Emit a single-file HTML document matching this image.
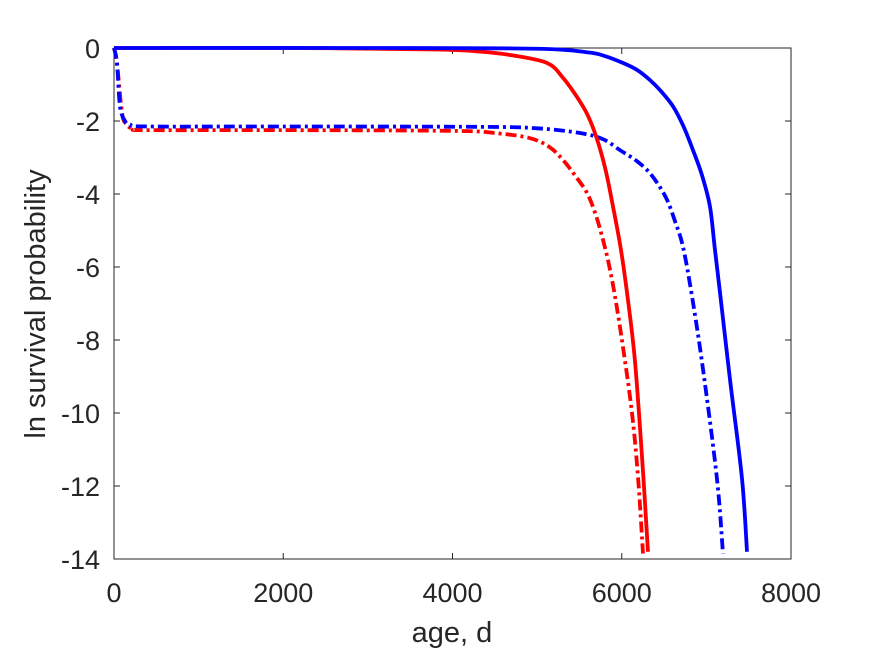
<!DOCTYPE html>
<html><head><meta charset="utf-8"><style>
html,body{margin:0;padding:0;background:#fff;}
svg{display:block;font-family:"Liberation Sans",sans-serif;}
</style></head><body>
<svg id="chart" width="875" height="656" viewBox="0 0 875 656" xmlns="http://www.w3.org/2000/svg">
<rect width="875" height="656" fill="#fff"/>
<g id="axes"></g>
<g id="series"></g>
</svg>
<script>
const xTicks=[0,2000,4000,6000,8000];
const yTicks=[0,-2,-4,-6,-8,-10,-12,-14];
const redSolidX=[0,2000,3800,4325,4700,5117,5300,5471,5600,5708,5810,5897,5985,6062,6157,6251,6310];
const redSolidY=[0,0,-0.04,-0.1,-0.2,-0.41,-0.8,-1.34,-1.85,-2.5,-3.35,-4.35,-5.45,-6.7,-8.6,-11.6,-13.8];
const blueSolidX=[0,3000,5000,5600,5800,6015,6180,6334,6470,6606,6730,6842,6950,7043,7100,7161,7280,7421,7480];
const blueSolidY=[0,0,-0.02,-0.12,-0.22,-0.41,-0.6,-0.88,-1.2,-1.6,-2.15,-2.8,-3.5,-4.35,-5.5,-6.7,-9.1,-11.8,-13.8];
const blueDashX=[0,35,71,130,190,400,2000,4325,5000,5507,5780,5980,6150,6298,6420,6535,6630,6724,6830,6960,7125,7196];
const blueDashY=[0,-0.41,-1.6,-2.0,-2.1,-2.15,-2.15,-2.16,-2.2,-2.33,-2.5,-2.8,-3.05,-3.34,-3.7,-4.16,-4.75,-5.45,-6.8,-8.8,-11.8,-13.85];
const redDashX=[0,35,95,150,230,400,2000,4000,4500,4916,5150,5306,5450,5589,5690,5779,5850,5920,6015,6121,6192,6251];
const redDashY=[0,-0.41,-1.78,-2.1,-2.22,-2.25,-2.25,-2.27,-2.33,-2.47,-2.72,-3.07,-3.5,-3.97,-4.55,-5.26,-5.95,-6.8,-8.2,-10,-11.75,-13.85];

const L=114,R=791,T=48,B=559;
const sx=v=>L+(v-0)/8000*(R-L);
const sy=v=>T+(0-v)/14*(B-T);
const NS="http://www.w3.org/2000/svg";
const axes=document.getElementById('axes');
const ser=document.getElementById('series');
function mk(tag,attrs,parent){const e=document.createElementNS(NS,tag);for(const k in attrs)e.setAttribute(k,attrs[k]);parent.appendChild(e);return e;}

const frame=mk('rect',{x:L,y:T,width:R-L,height:B-T,fill:'none',stroke:'#262626','stroke-width':1},axes);


xTicks.forEach(v=>{
  const t=mk('path',{d:`M${sx(v)},${B}V${B-6}M${sx(v)},${T}V${T+6}`,stroke:'#262626','stroke-width':1},axes);
  
  
  const lb=mk('text',{x:sx(v),y:B+43,'text-anchor':'middle','font-size':27,fill:'#262626'},axes);
  lb.textContent=v;
  
  
});
yTicks.forEach(v=>{
  const t=mk('path',{d:`M${L},${sy(v)}H${L+6}M${R},${sy(v)}H${R-6}`,stroke:'#262626','stroke-width':1},axes);
  
  
  const lb=mk('text',{x:L-14,y:sy(v)+10,'text-anchor':'end','font-size':27,fill:'#262626'},axes);
  lb.textContent=v;
  
  
});
const xl=mk('text',{x:452,y:642,'text-anchor':'middle','font-size':29,fill:'#262626'},axes);
xl.textContent='age, d';


const yl=mk('text',{x:0,y:0,'text-anchor':'middle','font-size':29,fill:'#262626',transform:'translate(45,304) rotate(-90)'},axes);
yl.textContent='ln survival probability';



function line(xs,ys,color,dash,name){
  const pts=xs.map((x,i)=>[sx(x),sy(ys[i])]);
  let d=`M${pts[0][0]},${pts[0][1]}`;
  for(let i=0;i<pts.length-1;i++){
    const p0=pts[Math.max(0,i-1)],p1=pts[i],p2=pts[i+1],p3=pts[Math.min(pts.length-1,i+2)];
    const c1=[p1[0]+(p2[0]-p0[0])/6,p1[1]+(p2[1]-p0[1])/6];
    const c2=[p2[0]-(p3[0]-p1[0])/6,p2[1]-(p3[1]-p1[1])/6];
    d+=`C${c1[0]},${c1[1]} ${c2[0]},${c2[1]} ${p2[0]},${p2[1]}`;
  }
  const p=mk('path',{d:d,fill:'none',stroke:color,'stroke-width':3.8,'stroke-linejoin':'round'},ser);
  if(dash)p.setAttribute('stroke-dasharray','11 4 3 4');
  
  
}
line(redDashX,redDashY,'#ff0000',true,'red-dashdot-line');
line(blueDashX,blueDashY,'#0000ff',true,'blue-dashdot-line');
line(redSolidX,redSolidY,'#ff0000',false,'red-solid-line');
line(blueSolidX,blueSolidY,'#0000ff',false,'blue-solid-line');
</script>
</body></html>
